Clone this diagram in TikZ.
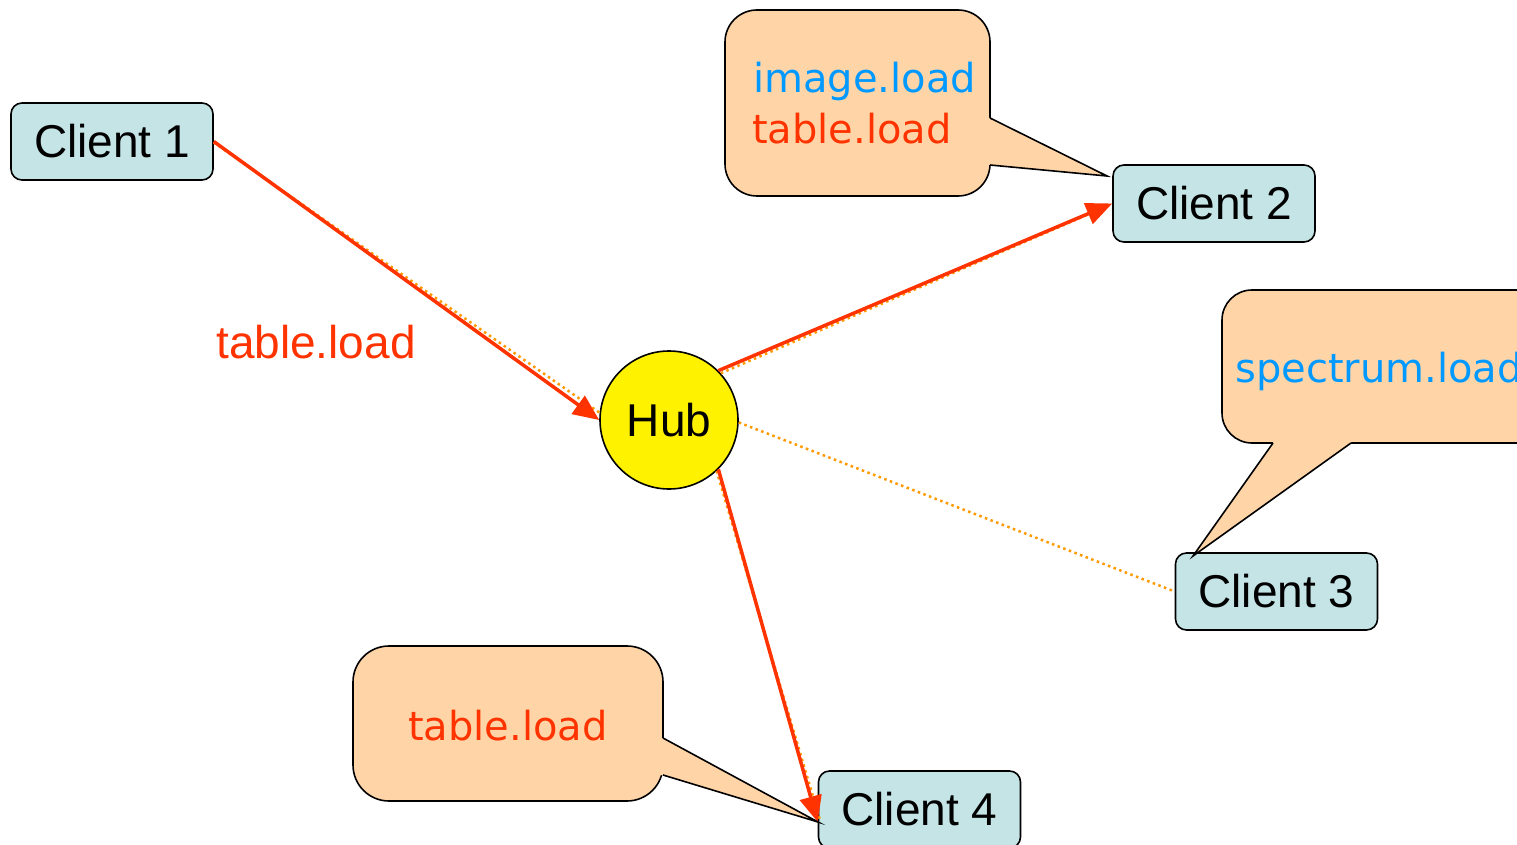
\documentclass[tikz,border=0pt]{standalone}
\usepackage{fontspec}
\setmainfont{Liberation Sans}
\newfontfamily\bubblefont{DejaVu Sans}
\usetikzlibrary{arrows.meta}

\definecolor{clientfill}{RGB}{196,228,230}
\definecolor{bubblefill}{RGB}{255,213,168}
\definecolor{linkred}{RGB}{255,51,0}
\definecolor{dotorange}{RGB}{255,153,0}
\definecolor{msgblue}{RGB}{0,153,255}

\begin{document}
\begin{tikzpicture}[x=1pt,y=-1pt,
  client/.style={draw=black, line width=1.6pt, fill=clientfill, rounded corners=11pt,
    minimum width=202pt, minimum height=77pt, inner sep=0pt,
    font=\fontsize{46}{55}\selectfont},
  hubnode/.style={circle, draw=black, line width=1.6pt, fill=yellow,
    minimum size=138pt, inner sep=0pt, font=\fontsize{46}{55}\selectfont},
  bubble/.style={fill=bubblefill, draw=black, line width=1.6pt},
  bubbletail/.style={fill=bubblefill},
  tailedge/.style={draw=black, line width=1.6pt, line join=miter},
  bubbletext/.style={font=\bubblefont\fontsize{40}{48}\selectfont, anchor=base west, inner sep=0pt},
  flow/.style={draw=linkred, line width=3.5pt, -{Triangle[length=26pt,width=22pt]}},
  notify/.style={draw=dotorange, line width=2.5pt, dash pattern=on 2.5pt off 3.5pt},
]
\useasboundingbox (0,0) rectangle (1517,845);
\clip (0,0) rectangle (1517,845);

% hub and clients
\node[hubnode] (hub) at (669,420) {Hub};
\node[client] (c1) at (112,141.5) {Client 1};
\node[client] (c2) at (1214,203.5) {Client 2};
\node[client] (c3) at (1276.5,591.5) {Client 3};
\node[client] (c4) at (919.5,809.5) {Client 4};

% label of the message sent by client 1
\node[text=linkred, font=\fontsize{46}{55}\selectfont, inner sep=0pt] (sent) at (316,342) {table.load};

% notifications (dotted) under the forwarded messages (solid)
\draw[notify] ([yshift=-1pt]c1.east) -- (hub.174);
\draw[notify] (hub.42) -- ([xshift=-8pt,yshift=-4pt]c2.west);
\draw[notify] (hub.-2) -- (c3.west);
\draw[notify] (hub.-47) -- ([xshift=2pt,yshift=3pt]c4.187);

\draw[flow] (c1.east) -- (hub.west);
\draw[flow] (hub.45) -- (c2.west);
\draw[flow] (hub.-45) -- (c4.187);

% speech bubble of client 2
\draw[bubble, rounded corners=32pt] (725,10) rectangle (990,196);
\fill[bubbletail] (978,118) -- (990,118) -- (1107,176) -- (990,165) -- (978,165) -- cycle;
\draw[tailedge] (990,118) -- (1107,176) -- (990,165);
\node[bubbletext, text=msgblue] (b2a) at (753,93) {image.load};
\node[bubbletext, text=linkred] (b2b) at (752,144) {table.load};

% speech bubble of client 3
\draw[bubble, rounded corners=30pt] (1222,290) rectangle (1580,443);
\fill[bubbletail] (1273,431) -- (1273,443) -- (1193,556) -- (1351,443) -- (1351,431) -- cycle;
\draw[tailedge] (1273,443) -- (1193,556) -- (1351,443);
\node[bubbletext, text=msgblue] (b3) at (1235,382) {spectrum.load};

% speech bubble of client 4
\draw[bubble, rounded corners=36pt] (353,646) rectangle (663,801);
\fill[bubbletail] (651,738) -- (663,738) -- (818,822) -- (663,775) -- (651,775) -- cycle;
\draw[tailedge] (663,738) -- (818,822) -- (663,775);
\node[bubbletext, text=linkred] (b4) at (408,740) {table.load};
\end{tikzpicture}
\end{document}
